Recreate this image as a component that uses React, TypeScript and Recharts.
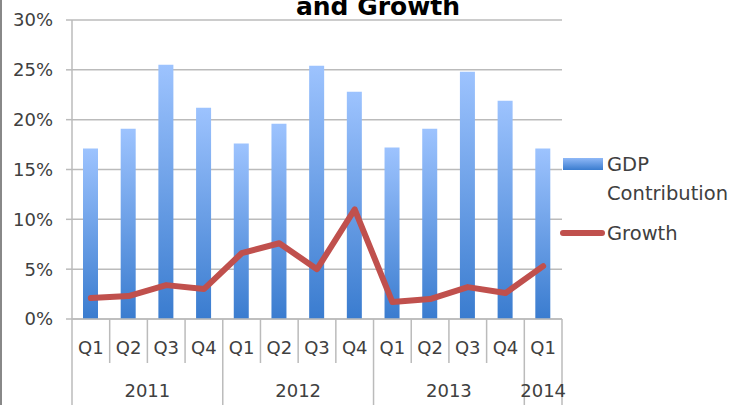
import React from 'react';
import { ComposedChart, Bar, Line, XAxis, YAxis, CartesianGrid } from 'recharts';

const quarters = ['Q1', 'Q2', 'Q3', 'Q4', 'Q1', 'Q2', 'Q3', 'Q4', 'Q1', 'Q2', 'Q3', 'Q4', 'Q1'];
const years = ['2011', '2011', '2011', '2011', '2012', '2012', '2012', '2012', '2013', '2013', '2013', '2013', '2014'];
const gdpContribution = [17.1, 19.1, 25.5, 21.2, 17.6, 19.6, 25.4, 22.8, 17.2, 19.1, 24.8, 21.9, 17.1];
const growth = [2.1, 2.3, 3.4, 3.0, 6.6, 7.6, 5.0, 11.0, 1.7, 2.0, 3.2, 2.6, 5.3];
const yTicks = [0, 5, 10, 15, 20, 25, 30];

const data = quarters.map((q, i) => ({
  key: `${years[i]}-${q}-${i}`,
  quarter: q,
  year: years[i],
  gdp: gdpContribution[i],
  growth: growth[i],
}));

const W = 745;
const H = 405;
const PLOT_LEFT = 72;
const PLOT_RIGHT = 562;
const PLOT_TOP = 20;
const PLOT_BOTTOM = 319;
const BAND = (PLOT_RIGHT - PLOT_LEFT) / quarters.length;
const TEXT = '#404040';
const GRID = '#BBBBBB';
const FONT = '"DejaVu Sans", sans-serif';

const CategoryTick = ({ x, payload }: any) => {
  const i = payload.index;
  const left = x - BAND / 2;
  const firstOfYear = i === 0 || years[i] !== years[i - 1];
  let groupSize = 0;
  if (firstOfYear) {
    for (let j = i; j < years.length && years[j] === years[i]; j++) groupSize++;
  }
  return (
    <g>
      <line x1={left} x2={left} y1={PLOT_BOTTOM} y2={firstOfYear ? H : 363} stroke={GRID} strokeWidth={1.5} />
      {i === quarters.length - 1 && (
        <line x1={left + BAND} x2={left + BAND} y1={PLOT_BOTTOM} y2={H} stroke={GRID} strokeWidth={1.5} />
      )}
      <text x={x} y={348} dy="0.355em" textAnchor="middle" fill={TEXT} fontSize={18} fontFamily={FONT}>
        {quarters[i]}
      </text>
      {firstOfYear && (
        <text x={left + (groupSize * BAND) / 2} y={391} dy="0.355em" textAnchor="middle" fill={TEXT} fontSize={18} fontFamily={FONT}>
          {years[i]}
        </text>
      )}
    </g>
  );
};

// legend drawn outside recharts so it doesn't eat plot space
const ChartLegend = () => (
  <div style={{ position: 'absolute', left: 555, top: 140, width: 185, height: 110, fontFamily: FONT, color: TEXT, fontSize: 19.5 }}>
    <div
      style={{
        position: 'absolute', left: 8, top: 18, width: 40, height: 12,
        background: 'linear-gradient(#8FB8F7, #3A7CCF)',
      }}
    />
    <div style={{ position: 'absolute', left: 52, top: 9.5, lineHeight: '29px', whiteSpace: 'nowrap' }}>
      GDP<br />Contribution
    </div>
    <div
      style={{
        position: 'absolute', left: 5, top: 90, width: 45, height: 6, borderRadius: 3,
        background: '#C0504D',
      }}
    />
    <div style={{ position: 'absolute', left: 52, top: 78.5, lineHeight: '29px', whiteSpace: 'nowrap' }}>
      Growth
    </div>
  </div>
);

export default function App() {
  return (
    <div style={{ position: 'absolute', left: 0, top: 0, width: W, height: H, background: '#fff', overflow: 'hidden', fontFamily: FONT }}>
      <div style={{ position: 'absolute', left: 0, top: 0, width: 1.5, height: H, background: '#888' }} />
      <ComposedChart
        width={W}
        height={H}
        data={data}
        margin={{ top: PLOT_TOP, right: W - PLOT_RIGHT, bottom: 0, left: 0 }}
        barCategoryGap={0}
      >
        <defs>
          <linearGradient id="gdpGrad" x1="0" y1="0" x2="0" y2="1">
            <stop offset="0%" stopColor="#9DC3FE" />
            <stop offset="100%" stopColor="#3A7CCF" />
          </linearGradient>
        </defs>
        <CartesianGrid horizontal vertical={false} stroke={GRID} strokeWidth={1.5} />
        <XAxis
          dataKey="key"
          height={H - PLOT_BOTTOM}
          interval={0}
          tickLine={false}
          axisLine={{ stroke: GRID, strokeWidth: 1.5 }}
          tick={<CategoryTick />}
        />
        <YAxis
          width={PLOT_LEFT}
          domain={[0, 30]}
          ticks={yTicks}
          tickFormatter={(v) => `${v}%`}
          axisLine={{ stroke: GRID, strokeWidth: 1.5 }}
          tickLine={{ stroke: GRID, strokeWidth: 1.5 }}
          tickSize={6}
          tickMargin={13}
          tick={{ fill: TEXT, fontSize: 18, fontFamily: FONT }}
        />
        <Bar dataKey="gdp" name="GDP Contribution" fill="url(#gdpGrad)" barSize={15} isAnimationActive={false} />
        <Line
          dataKey="growth"
          name="Growth"
          type="linear"
          stroke="#C0504D"
          strokeWidth={6}
          strokeLinecap="round"
          strokeLinejoin="round"
          dot={false}
          activeDot={false}
          isAnimationActive={false}
        />
      </ComposedChart>
      <ChartLegend />
      <svg width={W} height={H} style={{ position: 'absolute', left: 0, top: 0, pointerEvents: 'none' }}>
        <text x={378} y={15} textAnchor="middle" fontSize={25} fontWeight="bold" fill="#000" fontFamily={FONT}>
          and Growth
        </text>
      </svg>
    </div>
  );
}
